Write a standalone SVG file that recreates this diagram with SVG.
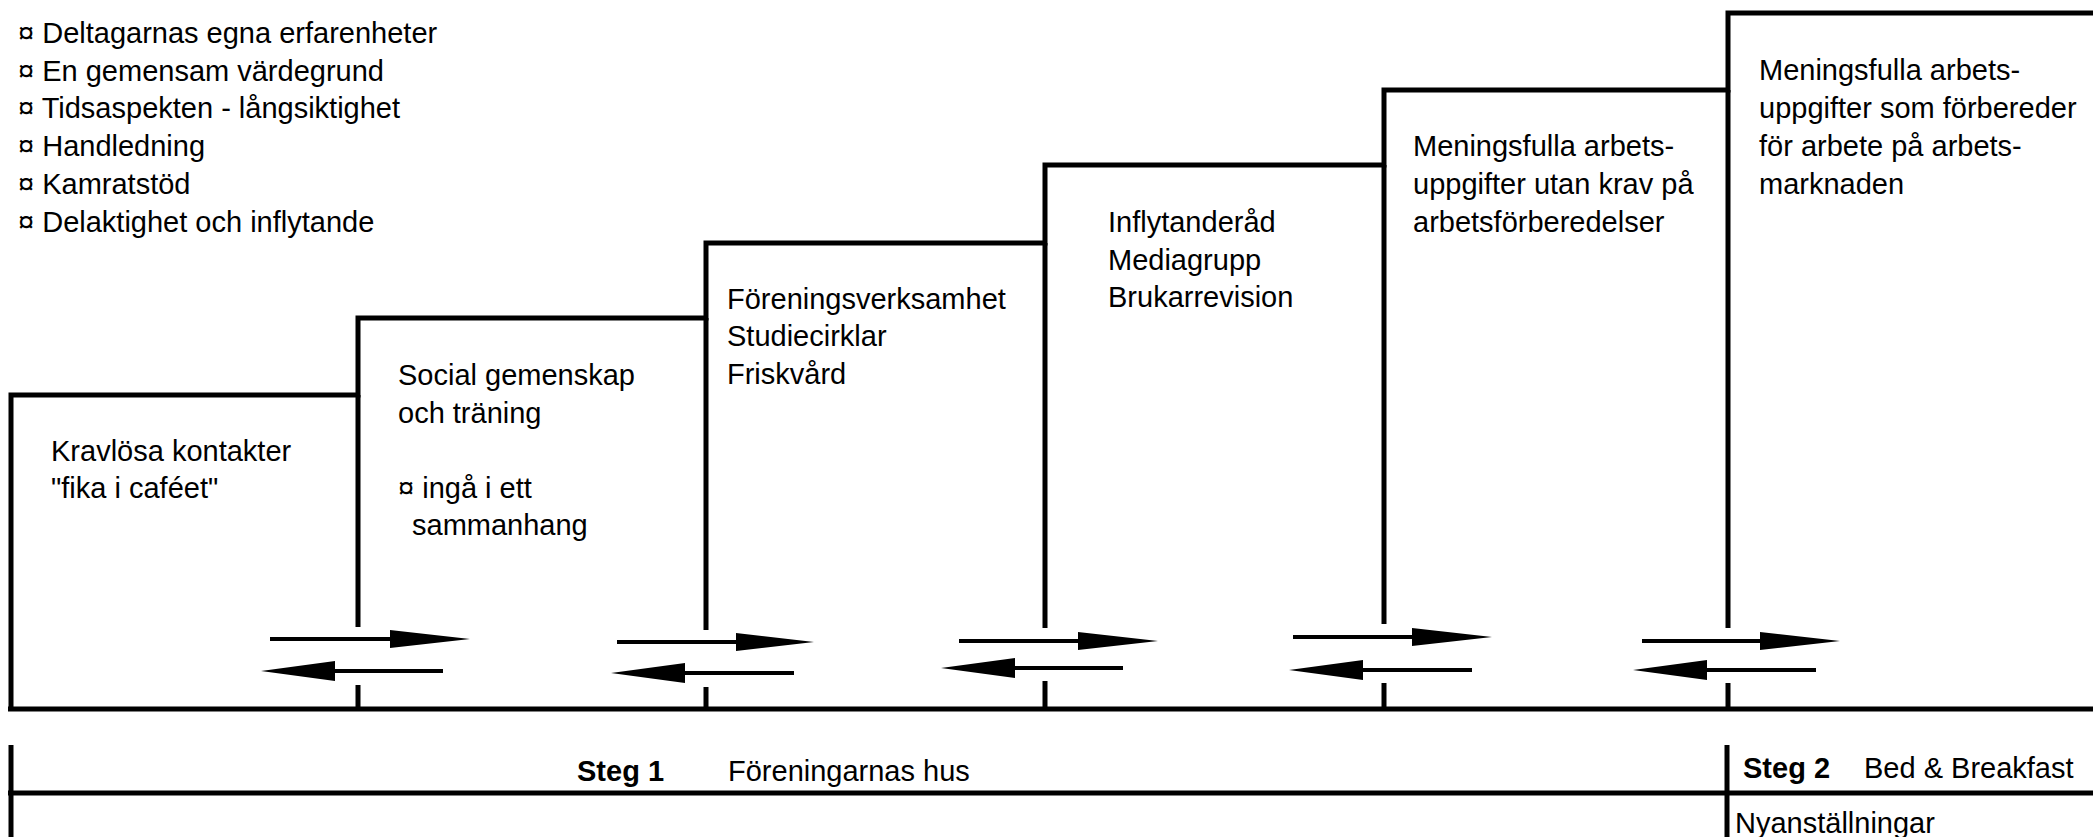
<svg xmlns="http://www.w3.org/2000/svg" width="2093" height="837" viewBox="0 0 2093 837">
<defs>
<style>
text{font-family:"Liberation Sans",Arial,sans-serif;font-size:29px;fill:#000}
.b{font-weight:bold}
.ln{stroke:#000;stroke-width:5;fill:none;stroke-linecap:butt}
.sh{stroke:#000;stroke-width:4;fill:none}
.hd{fill:#000;stroke:none}
</style>
</defs>
<rect width="2093" height="837" fill="#fff"/>
<g id="list">
<text x="18" y="43">¤ Deltagarnas egna erfarenheter</text>
<text x="18" y="81">¤ En gemensam värdegrund</text>
<text x="18" y="118">¤ Tidsaspekten - långsiktighet</text>
<text x="18" y="156">¤ Handledning</text>
<text x="18" y="194">¤ Kamratstöd</text>
<text x="18" y="232">¤ Delaktighet och inflytande</text>
</g>
<g id="staircase">
<path class="ln" d="M11,709 V395 H358 V318 H706 V243 H1045 V165 H1384 V90 H1728 V13 H2093"/>
<path class="ln" d="M8,709 H2093"/>
<path class="ln" d="M358,395 V627 M358,685 V709"/>
<path class="ln" d="M706,318 V630 M706,687 V709"/>
<path class="ln" d="M1045,243 V628 M1045,681 V709"/>
<path class="ln" d="M1384,165 V624 M1384,683 V709"/>
<path class="ln" d="M1728,90 V628 M1728,683 V709"/>
</g>
<g id="step1">
<text x="51" y="461">Kravlösa kontakter</text>
<text x="51" y="498">"fika i caféet"</text>
</g>
<g id="step2">
<text x="398" y="385">Social gemenskap</text>
<text x="398" y="423">och träning</text>
<text x="398" y="498">¤ ingå i ett</text>
<text x="412" y="535">sammanhang</text>
</g>
<g id="step3">
<text x="727" y="309">Föreningsverksamhet</text>
<text x="727" y="346">Studiecirklar</text>
<text x="727" y="384">Friskvård</text>
</g>
<g id="step4">
<text x="1108" y="232">Inflytanderåd</text>
<text x="1108" y="270">Mediagrupp</text>
<text x="1108" y="307">Brukarrevision</text>
</g>
<g id="step5">
<text x="1413" y="156">Meningsfulla arbets-</text>
<text x="1413" y="194">uppgifter utan krav på</text>
<text x="1413" y="232">arbetsförberedelser</text>
</g>
<g id="step6">
<text x="1759" y="80">Meningsfulla arbets-</text>
<text x="1759" y="118">uppgifter som förbereder</text>
<text x="1759" y="156">för arbete på arbets-</text>
<text x="1759" y="194">marknaden</text>
</g>
<g id="connectors">
<path class="sh" d="M270,639 H392"/><polygon class="hd" points="390,630 470,639 390,648"/>
<path class="sh" d="M443,671 H330"/><polygon class="hd" points="335,661 261,671 335,681"/>
<path class="sh" d="M617,642 H738"/><polygon class="hd" points="736,633 814,642 736,651"/>
<path class="sh" d="M794,673 H680"/><polygon class="hd" points="685,663 611,673 685,683"/>
<path class="sh" d="M959,641 H1080"/><polygon class="hd" points="1078,632 1158,641 1078,650"/>
<path class="sh" d="M1123,668 H1010"/><polygon class="hd" points="1015,658 941,668 1015,678"/>
<path class="sh" d="M1293,637 H1414"/><polygon class="hd" points="1412,628 1492,637 1412,646"/>
<path class="sh" d="M1472,670 H1358"/><polygon class="hd" points="1363,660 1289,670 1363,680"/>
<path class="sh" d="M1642,641 H1762"/><polygon class="hd" points="1760,632 1840,641 1760,650"/>
<path class="sh" d="M1816,670 H1702"/><polygon class="hd" points="1707,660 1633,670 1707,680"/>
</g>
<g id="table">
<path class="ln" d="M11,745 V837"/>
<path class="ln" d="M8,793 H2093"/>
<path class="ln" d="M1727,745 V837"/>
<text x="577" y="781" class="b">Steg 1</text>
<text x="728" y="781">Föreningarnas hus</text>
<text x="1743" y="778" class="b">Steg 2</text>
<text x="1864" y="778">Bed &amp; Breakfast</text>
<text x="1735" y="833">Nyanställningar</text>
</g>
</svg>
